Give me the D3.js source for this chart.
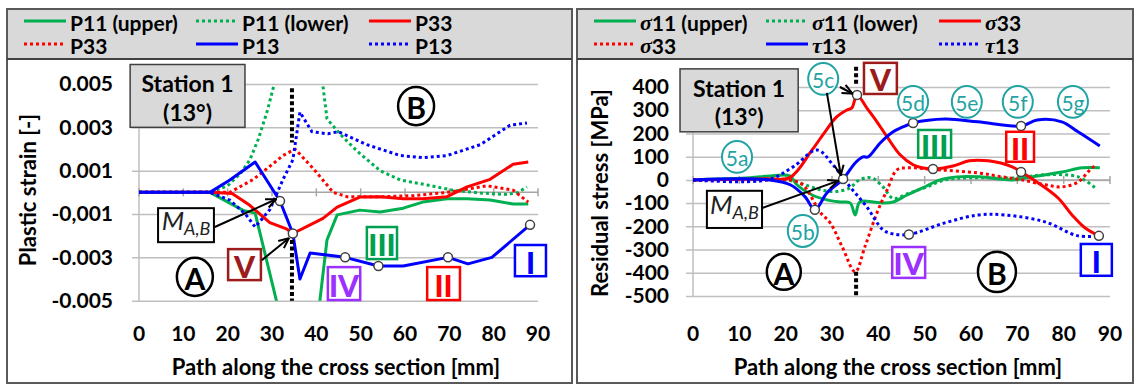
<!DOCTYPE html>
<html>
<head>
<meta charset="utf-8">
<script src="https://cdn.jsdelivr.net/npm/d3@7"></script>
<style>
  body { margin: 0; background: #fff; }
  svg { display: block; }
  text { font-family: Lato, "Open Sans", sans-serif; }
</style>
</head>
<body>
<div id="chart"></div>
<script>
// ---- axis values ----
const pathTicks = [0, 10, 20, 30, 40, 50, 60, 70, 80, 90];
const strainTicks = [0.005, 0.003, 0.001, -0.001, -0.003, -0.005];
const strainLabels = ["0.005", "0.003", "0.001", "-0,001", "-0.003", "-0.005"];
const stressTicks = [400, 300, 200, 100, 0, -100, -200, -300, -400, -500];

// ---- plastic strain (left) [mm, -] ----
const p11Upper = [[0, 0], [16, 0], [23.5, -0.00083], [26.2, -0.00096], [31, -0.005], [35, -0.0084],
  [39, -0.0082], [40.8, -0.005], [42.4, -0.0022], [44.7, -0.00104], [49.8, -0.00082], [54.4, -0.00091],
  [59.6, -0.00073], [64, -0.00045], [69.5, -0.0003], [74, -0.0003], [79.2, -0.00035], [84.4, -0.00054], [87.8, -0.00054]];
const p11Lower = [[0, 0], [16, 0], [20, 0.0003], [23, 0.0009], [25, 0.0015], [27, 0.0025], [29, 0.0038],
  [30.5, 0.005], [34, 0.011], [38, 0.011], [41.5, 0.0049], [42.4, 0.0034], [45.3, 0.0027], [49.2, 0.0019],
  [54.4, 0.001], [58.9, 0.00057], [65, 0.00034], [70.8, 0.0001], [77, -0.00003], [83, -0.0001], [85.5, 0], [87.5, 0.00025]];
const p33Upper = [[0, 0], [16, 0], [21, -0.00005], [25, -0.0006], [29.5, -0.0014], [33.4, -0.0017], [34.7, -0.0019],
  [38.6, -0.0015], [41.5, -0.0012], [44.7, -0.00068], [49.8, -0.00022], [54.4, -0.0002], [59.6, -0.0003],
  [64, -0.0003], [69.5, -0.0002], [74, 0.00025], [79.2, 0.0006], [84.4, 0.0013], [87.8, 0.0014]];
const p33Lower = [[0, 0], [16, 0], [20.5, 0], [25.8, 0.0006], [29.5, 0.0012], [32.5, 0.0017], [35.2, 0.002],
  [39.3, 0.0011], [43.8, 0], [46.9, -0.0002], [55, -0.0002], [62, -0.00015], [69.5, 0], [78.5, 0.0003],
  [84.4, 0.0001], [87.8, -0.00045]];
const p13Upper = [[0, 0], [16, 0], [20.5, 0.00057], [26.2, 0.0014], [31.8, -0.0004], [34.7, -0.0019], [36.3, -0.004],
  [38.6, -0.0028], [46.5, -0.003], [54, -0.0034], [59.6, -0.0034], [69.7, -0.003], [74.2, -0.0033],
  [79.6, -0.003], [88.2, -0.0015]];
const p13Lower = [[0, 0], [16, 0], [20.5, -0.00036], [24, -0.001], [26.2, -0.0016], [29.5, -0.0008], [32.5, 0.0006],
  [34.7, 0.0015], [36.3, 0.0037], [39, 0.0028], [42.6, 0.0027], [44.9, 0.0028], [51.4, 0.0022], [58.9, 0.0017],
  [64, 0.0016], [69.5, 0.0017], [77, 0.0022], [83.7, 0.0031], [87.5, 0.0032]];
const strainPoints = [[31.8, -0.0004], [34.7, -0.0019], [46.5, -0.003], [54, -0.0034], [69.7, -0.003], [88.2, -0.0015]];

// ---- residual stress (right) [mm, MPa] ----
const s11Upper = [[0, 0], [12.3, 9], [16.6, 17], [20.9, 17], [22.4, -21], [25.7, -65], [28.9, -86], [31.7, -95],
  [33.9, -99], [35, -151], [36, -95], [38.9, -95], [41, -99], [43.2, -95], [46.2, -65], [49.6, -34], [53.3, 0],
  [57, 13], [61.9, 13], [68.9, 0], [73.2, 13], [79.6, 34], [84, 52], [87.8, 52]];
const s11Lower = [[0, 0], [20, 0], [24, -20], [28, -45], [31, -50], [33.9, -34], [35.5, -5], [37.5, 10], [39, 5],
  [41, -30], [43.2, -80], [46.2, -60], [50, -34], [54.4, 0], [60, 9], [70, 9], [76, 22], [83.1, 13], [86.8, -34]];
const s33Upper = [[0, 0], [16, 5], [20.9, 10], [25.7, 129], [28.5, 207], [31, 271], [33.2, 301], [34.3, 310],
  [35.4, 366], [37.5, 310], [39.7, 250], [41.9, 185], [44.7, 108], [47.5, 65], [49.4, 52], [51.8, 47], [56.1, 60],
  [59.6, 82], [63.7, 82], [68.9, 56], [70.8, 34], [74.5, -13], [78.8, -78], [81.8, -151], [84.5, -205], [87.6, -241]];
const s33Lower = [[0, 0], [16, 0], [20.9, 0], [23.7, -21], [27.4, -138], [29.6, -185], [32.2, -288], [35, -396],
  [37.1, -288], [39.7, -142], [41.9, -43], [44, 43], [46.2, 52], [53.3, 43], [61.5, 30], [66.7, 13], [71, 0],
  [76, -21], [79.6, -30], [83.1, -9], [86.1, 52], [87.2, 65]];
const t13Upper = [[0, 0], [16.6, 0], [21, -21], [24.2, -73], [26.3, -129], [28.9, -56], [32.4, 4], [35, 73],
  [36.7, 99], [37.8, 99], [40.4, 159], [43.2, 207], [45.3, 228], [47.5, 245], [54.4, 262], [61.5, 250],
  [70.8, 232], [74.3, 258], [79.6, 250], [83.1, 207], [87.8, 146]];
const t13Lower = [[0, 0], [16, 0], [21.6, 56], [26.8, 129], [30.2, 65], [33.9, -30], [37.5, -116], [41, -215],
  [43.2, -233], [46.6, -235], [54.4, -185], [61.5, -151], [67.3, -151], [76, -181], [83.1, -241], [87.6, -241]];
const stressPoints = [[26.3, -129], [32.4, 4], [35.4, 366], [47.5, 245], [51.8, 47], [70.8, 232], [70.8, 34],
  [46.6, -235], [87.6, -241]];

const GREEN = "#00b050", RED = "#ff0000", BLUE = "#0000ff";
const TEAL = "#1fa3a3", DARKRED = "#9c1c1c", PURPLE = "#9b30ff";

const svg = d3.select("#chart").append("svg").attr("width", 1137).attr("height", 385);
svg.append("rect").attr("width", 1137).attr("height", 385).attr("fill", "#fff");

const defs = svg.append("defs");
defs.append("marker")
  .attr("id", "arrow")
  .attr("viewBox", "0 0 12 12")
  .attr("refX", 11).attr("refY", 6)
  .attr("markerWidth", 12).attr("markerHeight", 12)
  .attr("markerUnits", "userSpaceOnUse")
  .attr("orient", "auto")
  .append("path")
  .attr("d", "M1,1.5 L11,6 L1,10.5")
  .attr("fill", "none").attr("stroke", "#000").attr("stroke-width", 2);

function drawPanel(p) {
  const g = svg.append("g");
  // frame + legend background
  g.append("rect").attr("x", p.left).attr("y", 9).attr("width", p.width).attr("height", 374)
    .attr("fill", "#fff").attr("stroke", "#595959").attr("stroke-width", 2);
  g.append("rect").attr("x", p.left + 1).attr("y", 10).attr("width", p.width - 2).attr("height", 49)
    .attr("fill", "#d9d9d9");
  g.append("line").attr("x1", p.left).attr("x2", p.left + p.width).attr("y1", 59).attr("y2", 59)
    .attr("stroke", "#404040").attr("stroke-width", 2);

  const x = d3.scaleLinear().domain([0, 90]).range(p.xRange);
  const y = d3.scaleLinear().domain(p.yDomain).range(p.yRange);

  // gridlines and y labels
  const yAxis = d3.axisLeft(y)
    .tickValues(p.yTicks)
    .tickFormat((d, i) => p.yLabels[i])
    .tickSize(-(p.xRange[1] - p.xRange[0] + 7))
    .tickPadding(p.yPad);
  g.append("g")
    .attr("transform", `translate(${p.xRange[0] - 7},0)`)
    .call(yAxis)
    .attr("font-family", null).attr("font-size", 21).attr("font-weight", "bold")
    .call(a => a.select(".domain").remove())
    .call(a => a.selectAll(".tick line").attr("stroke", "#bfbfbf").attr("stroke-width", 1.5))
    .call(a => a.selectAll(".tick text").attr("fill", "#000"));

  // vertical axis line
  g.append("line").attr("x1", x(0)).attr("x2", x(0)).attr("y1", p.yRange[1]).attr("y2", p.yRange[0])
    .attr("stroke", "#bfbfbf").attr("stroke-width", 1.5);

  // horizontal axis through zero with cross ticks
  const y0 = y(0);
  g.append("line").attr("x1", x(0)).attr("x2", x(90)).attr("y1", y0).attr("y2", y0)
    .attr("stroke", "#a6a6a6").attr("stroke-width", 1.5);
  g.selectAll(".xtick").data(pathTicks).join("line")
    .attr("x1", d => x(d)).attr("x2", d => x(d)).attr("y1", y0 - 4).attr("y2", y0 + 4)
    .attr("stroke", "#a6a6a6").attr("stroke-width", 1.5);

  // x labels at the bottom
  g.selectAll(".xlab").data(pathTicks).join("text")
    .attr("x", d => x(d)).attr("y", 332)
    .attr("text-anchor", "middle").attr("dominant-baseline", "central")
    .attr("font-size", 21).attr("font-weight", "bold")
    .text(d => d);

  // axis titles
  g.append("text").attr("x", p.xTitleX).attr("y", 366)
    .attr("text-anchor", "middle").attr("dominant-baseline", "central")
    .attr("font-size", 22).attr("font-weight", "bold")
    .text("Path along the cross section [mm]");
  g.append("text")
    .attr("transform", `translate(${p.yTitleX},${p.yTitleY}) rotate(-90)`)
    .attr("text-anchor", "middle").attr("dominant-baseline", "central")
    .attr("font-size", 22).attr("font-weight", "bold")
    .text(p.yTitle);

  // legend
  p.legend.forEach((e, i) => {
    const col = i % 3, row = Math.floor(i / 3);
    const lx = p.left + [17, 189, 362][col];
    const ly = [21, 44][row];
    g.append("line").attr("x1", lx).attr("x2", lx + 42).attr("y1", ly).attr("y2", ly)
      .attr("stroke", e.color).attr("stroke-width", 3)
      .attr("stroke-dasharray", e.dashed ? "3,3" : null);
    const t = g.append("text").attr("x", lx + 46).attr("y", ly + 1)
      .attr("dominant-baseline", "central").attr("font-size", 21).attr("font-weight", "bold");
    if (e.sym) {
      t.append("tspan").attr("font-family", "'Liberation Serif', serif").attr("font-style", "italic")
        .attr("font-weight", "bold").attr("font-size", 22).text(e.sym);
    }
    t.append("tspan").text(e.label);
  });

  // clip area
  const clipId = "clip" + p.left;
  defs.append("clipPath").attr("id", clipId).append("rect")
    .attr("x", p.xRange[0]).attr("y", p.yRange[1])
    .attr("width", p.xRange[1] - p.xRange[0]).attr("height", p.yRange[0] - p.yRange[1]);

  const line = d3.line().x(d => x(d[0])).y(d => y(d[1])).curve(p.curve);
  const plot = g.append("g").attr("clip-path", `url(#${clipId})`);
  plot.selectAll("path").data(p.series).join("path")
    .attr("d", d => line(d.values))
    .attr("fill", "none")
    .attr("stroke", d => d.color)
    .attr("stroke-width", 3)
    .attr("stroke-linejoin", "round")
    .attr("stroke-dasharray", d => d.dashed ? "3,3" : null);

  // black dotted marker line
  p.cut.forEach(seg => {
    g.append("line").attr("x1", x(p.cutX)).attr("x2", x(p.cutX))
      .attr("y1", y(seg[0])).attr("y2", y(seg[1]))
      .attr("stroke", "#000").attr("stroke-width", 4).attr("stroke-dasharray", "4,2.5");
  });

  return { g, x, y };
}

function markers(panel, pts) {
  panel.g.selectAll(".pt").data(pts).join("circle")
    .attr("cx", d => panel.x(d[0])).attr("cy", d => panel.y(d[1])).attr("r", 4.5)
    .attr("fill", "#fff").attr("stroke", "#404040").attr("stroke-width", 1.5);
}

function box(panel, x0, x1, y0, y1, txt, color, size, fill) {
  const { g, x, y } = panel;
  g.append("rect").attr("x", x(x0)).attr("y", y(y0)).attr("width", x(x1) - x(x0)).attr("height", y(y1) - y(y0))
    .attr("fill", fill || "#fff").attr("stroke", color).attr("stroke-width", 2.5);
  g.append("text").attr("x", (x(x0) + x(x1)) / 2).attr("y", (y(y0) + y(y1)) / 2 + 1)
    .attr("text-anchor", "middle").attr("dominant-baseline", "central")
    .attr("font-size", size).attr("font-weight", 900).attr("fill", color).text(txt);
}

function stationBox(panel, x0, x1, y0, y1) {
  const { g, x, y } = panel;
  g.append("rect").attr("x", x(x0)).attr("y", y(y0)).attr("width", x(x1) - x(x0)).attr("height", y(y1) - y(y0))
    .attr("fill", "#d9d9d9").attr("stroke", "#404040").attr("stroke-width", 1.5);
  const cx = (x(x0) + x(x1)) / 2, h = y(y1) - y(y0);
  g.append("text").attr("x", cx).attr("y", y(y0) + h * 0.3).attr("text-anchor", "middle")
    .attr("dominant-baseline", "central").attr("font-size", 23).attr("font-weight", "bold").text("Station 1");
  g.append("text").attr("x", cx).attr("y", y(y0) + h * 0.75).attr("text-anchor", "middle")
    .attr("dominant-baseline", "central").attr("font-size", 23).attr("font-weight", "bold").text("(13°)");
}

function mBox(panel, x0, x1, y0, y1) {
  const { g, x, y } = panel;
  g.append("rect").attr("x", x(x0)).attr("y", y(y0)).attr("width", x(x1) - x(x0)).attr("height", y(y1) - y(y0))
    .attr("fill", "#fff").attr("stroke", "#000").attr("stroke-width", 2);
  const t = g.append("text").attr("x", (x(x0) + x(x1)) / 2).attr("y", (y(y0) + y(y1)) / 2 + 5)
    .attr("text-anchor", "middle").attr("font-family", "'Liberation Serif', serif").attr("font-style", "italic")
    .attr("font-size", 26).attr("fill", "#222");
  t.append("tspan").text("M");
  t.append("tspan").attr("font-size", 18).attr("dy", 5).text("A,B");
}

function ring(panel, cx, cy, r, txt, color, size, weight, sw) {
  const { g, x, y } = panel;
  g.append("ellipse").attr("cx", x(cx)).attr("cy", y(cy)).attr("rx", r).attr("ry", r * 1.06)
    .attr("fill", "#fff").attr("stroke", color).attr("stroke-width", sw);
  g.append("text").attr("x", x(cx)).attr("y", y(cy) + 1).attr("text-anchor", "middle")
    .attr("dominant-baseline", "central").attr("font-size", size).attr("font-weight", weight)
    .attr("fill", color).text(txt);
}

function arrow(panel, a, b) {
  const { g, x, y } = panel;
  g.append("line").attr("x1", x(a[0])).attr("y1", y(a[1])).attr("x2", x(b[0])).attr("y2", y(b[1]))
    .attr("stroke", "#000").attr("stroke-width", 2).attr("marker-end", "url(#arrow)");
}

// ---- left panel ----
const left = drawPanel({
  left: 7, width: 565,
  xRange: [139, 538], yDomain: [-0.005, 0.005], yRange: [300.7, 84],
  yTicks: strainTicks, yLabels: strainLabels, yPad: 19,
  xTitleX: 336, yTitleX: 27, yTitleY: 190, yTitle: "Plastic strain [-]",
  curve: d3.curveLinear,
  cutX: 34.5, cut: [[0.0048, 0.0023], [-0.0022, -0.005]],
  legend: [
    { label: "P11 (upper)", color: GREEN }, { label: "P11 (lower)", color: GREEN, dashed: true },
    { label: "P33", color: RED }, { label: "P33", color: RED, dashed: true },
    { label: "P13", color: BLUE }, { label: "P13", color: BLUE, dashed: true }
  ],
  series: [
    { values: p11Upper, color: GREEN }, { values: p11Lower, color: GREEN, dashed: true },
    { values: p33Upper, color: RED }, { values: p33Lower, color: RED, dashed: true },
    { values: p13Upper, color: BLUE }, { values: p13Lower, color: BLUE, dashed: true }
  ]
});
markers(left, strainPoints);
stationBox(left, -2, 23.9, 0.0059, 0.003);
mBox(left, 4.3, 16.9, -0.00073, -0.0023);
arrow(left, [17.1, -0.0016], [30.9, -0.00032]);
box(left, 20.1, 27.5, -0.00262, -0.00405, "V", DARKRED, 30);
arrow(left, [27.7, -0.00313], [33.8, -0.00212]);
ring(left, 12.6, -0.0039, 18, "A", "#000", 30, "bold", 2.5);
ring(left, 62.5, 0.00398, 18, "B", "#000", 30, "bold", 2.5);
box(left, 51.4, 58.2, -0.0016, -0.00308, "III", "#00a050", 30);
box(left, 42.6, 49.9, -0.00345, -0.00497, "IV", PURPLE, 30);
box(left, 65, 72.4, -0.00345, -0.00497, "II", RED, 30);
box(left, 84.8, 91.8, -0.00243, -0.00387, "I", BLUE, 30);

// ---- right panel ----
const right = drawPanel({
  left: 577, width: 556,
  xRange: [693, 1110], yDomain: [-500, 400], yRange: [296, 87],
  yTicks: stressTicks, yLabels: stressTicks.map(String), yPad: 17,
  xTitleX: 898, yTitleX: 599, yTitleY: 193, yTitle: "Residual stress [MPa]",
  curve: d3.curveCatmullRom.alpha(0.5),
  cutX: 35.2, cut: [[487, 405], [-396, -500]],
  legend: [
    { sym: "σ", label: "11 (upper)", color: GREEN }, { sym: "σ", label: "11 (lower)", color: GREEN, dashed: true },
    { sym: "σ", label: "33", color: RED }, { sym: "σ", label: "33", color: RED, dashed: true },
    { sym: "τ", label: "13", color: BLUE }, { sym: "τ", label: "13", color: BLUE, dashed: true }
  ],
  series: [
    { values: s11Upper, color: GREEN }, { values: s11Lower, color: GREEN, dashed: true },
    { values: s33Upper, color: RED }, { values: s33Lower, color: RED, dashed: true },
    { values: t13Upper, color: BLUE }, { values: t13Lower, color: BLUE, dashed: true }
  ]
});
markers(right, stressPoints);
stationBox(right, -2.8, 22.7, 478, 207);
mBox(right, 3, 14.9, -47, -207);
arrow(right, [14.9, -121], [31.3, -4]);
ring(right, 9.5, 99, 15, "5a", TEAL, 21, "normal", 2);
ring(right, 23.7, -220, 15, "5b", TEAL, 21, "normal", 2);
ring(right, 28.1, 435, 15, "5c", TEAL, 21, "normal", 2);
arrow(right, [31.7, 400], [34.4, 372]);
arrow(right, [28.9, 375], [31.9, 20]);
box(right, 36.9, 44, 504, 370, "V", DARKRED, 30);
ring(right, 47.5, 336, 15, "5d", TEAL, 21, "normal", 2);
ring(right, 59.1, 336, 15, "5e", TEAL, 21, "normal", 2);
ring(right, 70.1, 336, 15, "5f", TEAL, 21, "normal", 2);
ring(right, 82, 336, 15, "5g", TEAL, 21, "normal", 2);
box(right, 48.6, 55.7, 215, 95, "III", "#00a050", 30);
box(right, 67.6, 73.6, 207, 78, "II", RED, 30);
box(right, 43, 50.1, -289, -422, "IV", PURPLE, 30);
box(right, 83.7, 90.4, -276, -413, "I", BLUE, 30);
ring(right, 19.6, -396, 17, "A", "#000", 30, "bold", 2.5);
ring(right, 65.6, -396, 19, "B", "#000", 30, "bold", 2.5);
</script>
</body>
</html>
